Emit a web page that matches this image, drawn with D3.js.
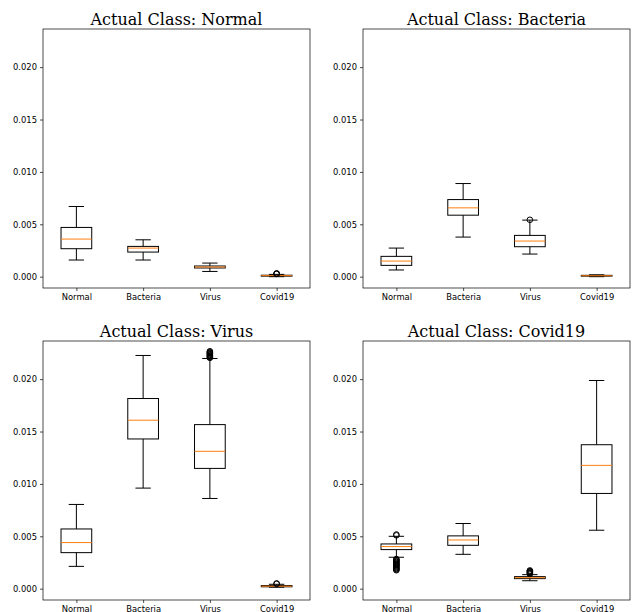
<!DOCTYPE html>
<html>
<head>
<meta charset="utf-8">
<script src="https://cdn.jsdelivr.net/npm/d3@7"></script>
<style>
  body { margin: 0; background: #fff; }
  svg { display: block; }
  .tick text { font-family: "DejaVu Sans", sans-serif; font-size: 8.4px; fill: #000; }
  .title { font-family: "DejaVu Serif", serif; font-size: 16px; fill: #000; }
</style>
</head>
<body>
<svg id="chart" width="633" height="612"></svg>
<script>
// ===== DADOS =====

const classes = ["Normal", "Bacteria", "Virus", "Covid19"];
const yTicks = [0.0, 0.005, 0.01, 0.015, 0.02];

// [whisker low, Q1, median, Q3, whisker high] per predicted class
const statsNormal = [
  [0.00159, 0.00267, 0.00359, 0.00470, 0.00670],
  [0.00159, 0.00235, 0.00273, 0.00289, 0.00352],
  [0.00050, 0.00083, 0.00092, 0.00102, 0.00130],
  [0.00000, 0.00005, 0.00010, 0.00014, 0.00022]
];
const statsBacteria = [
  [0.00064, 0.00108, 0.00149, 0.00194, 0.00273],
  [0.00378, 0.00587, 0.00657, 0.00736, 0.00889],
  [0.00216, 0.00286, 0.00340, 0.00394, 0.00540],
  [0.00000, 0.00005, 0.00009, 0.00013, 0.00018]
];
const statsVirus = [
  [0.00213, 0.00344, 0.00440, 0.00570, 0.00804],
  [0.00960, 0.01429, 0.01608, 0.01815, 0.02226],
  [0.00861, 0.01148, 0.01311, 0.01566, 0.02197],
  [0.00014, 0.00018, 0.00024, 0.00030, 0.00042]
];
const statsCovid = [
  [0.00300, 0.00373, 0.00402, 0.00427, 0.00500],
  [0.00328, 0.00414, 0.00465, 0.00504, 0.00622],
  [0.00076, 0.00096, 0.00105, 0.00115, 0.00134],
  [0.00558, 0.00909, 0.01177, 0.01374, 0.01987]
];

// outliers
const fliersNormal = [[], [], [], [0.00026, 0.00029, 0.00031]];
const fliersBacteria = [[], [], [0.00543], []];
const fliersVirus = [
  [], [],
  [0.02203, 0.02210, 0.02218, 0.02224, 0.02231, 0.02239, 0.02246, 0.02252, 0.02259, 0.02266],
  [0.00046, 0.00050]
];
const fliersCovid = [
  [0.00509, 0.00517,
   0.00283, 0.00276, 0.00270, 0.00262, 0.00255, 0.00247, 0.00241, 0.00233,
   0.00226, 0.00219, 0.00211, 0.00204, 0.00196, 0.00189, 0.00182, 0.00176],
  [],
  [0.00141, 0.00148, 0.00155, 0.00161, 0.00168, 0.00174],
  []
];

const panels = [
  { title: "Actual Class: Normal", stats: statsNormal, fliers: fliersNormal },
  { title: "Actual Class: Bacteria", stats: statsBacteria, fliers: fliersBacteria },
  { title: "Actual Class: Virus", stats: statsVirus, fliers: fliersVirus },
  { title: "Actual Class: Covid19", stats: statsCovid, fliers: fliersCovid }
];

// ===== LAYOUT =====

const panelW = 267, panelH = 259;
const colX = [43, 363];
const rowY = [29, 341];
const boxW = 0.46; // em unidades de categoria

const svg = d3.select("#chart");

panels.forEach((p, i) => {
  const ox = colX[i % 2], oy = rowY[Math.floor(i / 2)];

  const x = d3.scaleLinear().domain([0.5, 4.5]).range([0, panelW]);
  const y = d3.scaleLinear().domain([-0.00108, 0.02364]).range([panelH, 0]);

  const g = svg.append("g").attr("transform", `translate(${ox},${oy})`);

  // eixos
  g.append("g")
    .call(d3.axisLeft(y).tickValues(yTicks).tickFormat(d3.format(".3f")).tickSizeOuter(0).tickSize(3).tickPadding(3))
    .call(a => a.select(".domain").remove())
    .call(a => a.selectAll("line").attr("stroke", "#000").attr("stroke-width", 0.7));

  g.append("g")
    .attr("transform", `translate(0,${panelH})`)
    .call(d3.axisBottom(x).tickValues([1, 2, 3, 4]).tickFormat((d) => classes[d - 1]).tickSize(3).tickPadding(3))
    .call(a => a.select(".domain").remove())
    .call(a => a.selectAll("line").attr("stroke", "#000").attr("stroke-width", 0.7));

  // caixas
  p.stats.forEach((s, j) => {
    const cx = x(j + 1);
    const half = (x(boxW) - x(0)) / 2;
    const cap = half / 2;
    const [lo, q1, med, q3, hi] = s;
    const bg = g.append("g").attr("stroke", "#000").attr("stroke-width", 1).attr("fill", "none");

    bg.append("line").attr("x1", cx).attr("x2", cx).attr("y1", y(q1)).attr("y2", y(lo));
    bg.append("line").attr("x1", cx).attr("x2", cx).attr("y1", y(q3)).attr("y2", y(hi));
    bg.append("line").attr("x1", cx - cap).attr("x2", cx + cap).attr("y1", y(lo)).attr("y2", y(lo));
    bg.append("line").attr("x1", cx - cap).attr("x2", cx + cap).attr("y1", y(hi)).attr("y2", y(hi));
    bg.append("rect")
      .attr("x", cx - half).attr("width", half * 2)
      .attr("y", y(q3)).attr("height", Math.max(0.5, y(q1) - y(q3)));
    bg.append("line")
      .attr("x1", cx - half).attr("x2", cx + half)
      .attr("y1", y(med)).attr("y2", y(med))
      .attr("stroke", "#ff7f0e");

    p.fliers[j].forEach((v) => {
      bg.append("circle").attr("cx", cx).attr("cy", y(v)).attr("r", 2.8);
    });
  });

  // moldura
  g.append("rect")
    .attr("width", panelW).attr("height", panelH)
    .attr("fill", "none").attr("stroke", "#000").attr("stroke-width", 0.7);

  g.append("text")
    .attr("class", "title")
    .attr("x", panelW / 2).attr("y", -4.5)
    .attr("text-anchor", "middle")
    .text(p.title);
});
</script>
</body>
</html>
